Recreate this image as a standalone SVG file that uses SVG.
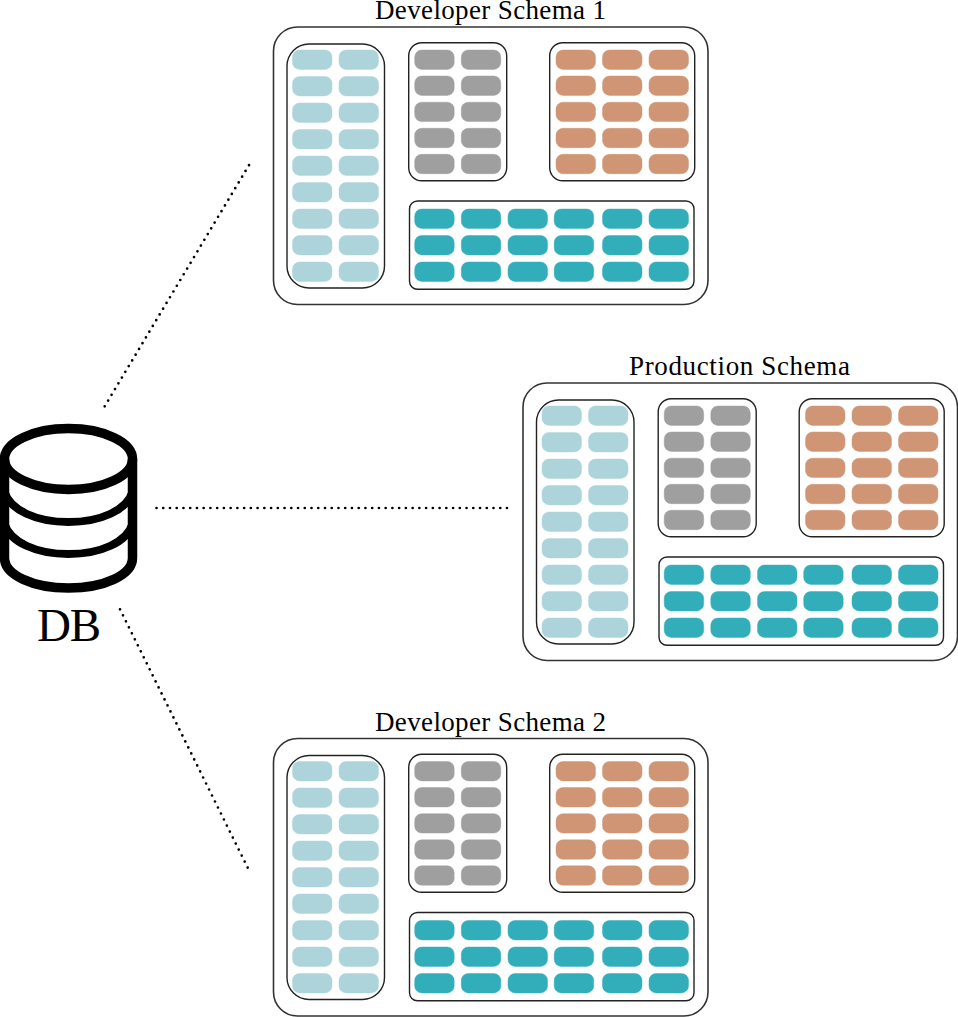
<svg xmlns="http://www.w3.org/2000/svg" width="958" height="1017" viewBox="0 0 958 1017">
<style>
.box{fill:#fff;stroke:#222;stroke-width:1.4}
.outer{fill:#fff;stroke:#333;stroke-width:1.6}
.b{fill:#acd4da;stroke:#acd4da;stroke-opacity:.45;stroke-width:1}
.g{fill:#9f9f9f;stroke:#9f9f9f;stroke-opacity:.45;stroke-width:1}
.o{fill:#cf9574;stroke:#cf9574;stroke-opacity:.45;stroke-width:1}
.t{fill:#32aeba;stroke:#32aeba;stroke-opacity:.45;stroke-width:1}
.lbl{font-family:"Liberation Serif","Times New Roman",serif;font-size:27px;fill:#000}
.dot{fill:none;stroke:#000;stroke-width:2.7;stroke-linecap:round}
.cyl{fill:none;stroke:#000;stroke-linecap:butt}
</style>
<defs>
<rect id="p" x="0" y="0" width="39.5" height="19.4" rx="7"/>
<g id="blue"><rect class="box" x="287" y="44" width="97.500" height="244" rx="22"/>
<g class="b">
<use href="#p" x="292.500" y="50"/><use href="#p" x="339" y="50"/>
<use href="#p" x="292.500" y="76.500"/><use href="#p" x="339" y="76.500"/>
<use href="#p" x="292.500" y="103"/><use href="#p" x="339" y="103"/>
<use href="#p" x="292.500" y="129.500"/><use href="#p" x="339" y="129.500"/>
<use href="#p" x="292.500" y="156"/><use href="#p" x="339" y="156"/>
<use href="#p" x="292.500" y="182.500"/><use href="#p" x="339" y="182.500"/>
<use href="#p" x="292.500" y="209"/><use href="#p" x="339" y="209"/>
<use href="#p" x="292.500" y="235.500"/><use href="#p" x="339" y="235.500"/>
<use href="#p" x="292.500" y="262"/><use href="#p" x="339" y="262"/>
</g></g>
<g id="gray"><rect class="box" x="408.700" y="42.700" width="98" height="138" rx="13"/>
<g class="g">
<use href="#p" x="414.700" y="50"/><use href="#p" x="461.300" y="50"/>
<use href="#p" x="414.700" y="76"/><use href="#p" x="461.300" y="76"/>
<use href="#p" x="414.700" y="102.200"/><use href="#p" x="461.300" y="102.200"/>
<use href="#p" x="414.700" y="128.300"/><use href="#p" x="461.300" y="128.300"/>
<use href="#p" x="414.700" y="154.300"/><use href="#p" x="461.300" y="154.300"/>
</g></g>
<g id="orange"><rect class="box" x="549.700" y="42.700" width="145" height="138" rx="13"/>
<g class="o">
<use href="#p" x="556" y="50"/><use href="#p" x="602.500" y="50"/><use href="#p" x="649" y="50"/>
<use href="#p" x="556" y="76"/><use href="#p" x="602.500" y="76"/><use href="#p" x="649" y="76"/>
<use href="#p" x="556" y="102.200"/><use href="#p" x="602.500" y="102.200"/><use href="#p" x="649" y="102.200"/>
<use href="#p" x="556" y="128.300"/><use href="#p" x="602.500" y="128.300"/><use href="#p" x="649" y="128.300"/>
<use href="#p" x="556" y="154.300"/><use href="#p" x="602.500" y="154.300"/><use href="#p" x="649" y="154.300"/>
</g></g>
<g id="teal"><rect class="box" x="409.500" y="201" width="284.500" height="88.300" rx="8"/>
<g class="t">
<use href="#p" x="414.700" y="209"/><use href="#p" x="461.300" y="209"/><use href="#p" x="508" y="209"/><use href="#p" x="554.200" y="209"/><use href="#p" x="602.500" y="209"/><use href="#p" x="649" y="209"/>
<use href="#p" x="414.700" y="235.500"/><use href="#p" x="461.300" y="235.500"/><use href="#p" x="508" y="235.500"/><use href="#p" x="554.200" y="235.500"/><use href="#p" x="602.500" y="235.500"/><use href="#p" x="649" y="235.500"/>
<use href="#p" x="414.700" y="262"/><use href="#p" x="461.300" y="262"/><use href="#p" x="508" y="262"/><use href="#p" x="554.200" y="262"/><use href="#p" x="602.500" y="262"/><use href="#p" x="649" y="262"/>
</g></g>
<g id="schema"><rect class="outer" x="273.500" y="27" width="434.500" height="277.500" rx="24"/>
<use href="#blue"/><use href="#gray"/><use href="#orange"/><use href="#teal"/></g>
</defs>
<g id="connectors">
<path class="dot" style="stroke-dasharray:0 6.690" d="M104.700 406.300L250.500 162.700"/>
<path class="dot" style="stroke-dasharray:0 6.740" d="M156.500 508H507.800"/>
<path class="dot" style="stroke-dasharray:0 6.700" d="M120 609.300L248.800 869.900"/>
</g>
<g id="db">
<g class="cyl">
<ellipse cx="68.500" cy="459" rx="64" ry="30.500" stroke-width="9.500"/>
<path d="M4.500 459V558C4.500 575 33 588 68.500 588S132.500 575 132.500 558V459" stroke-width="9.500"/>
<path d="M4.500 492C10 510 36 522 68.500 522S127 510 132.500 492" stroke-width="8"/>
<path d="M4.500 524C10 542 36 554 68.500 554S127 542 132.500 524" stroke-width="8"/>
</g>
<text class="lbl" x="37" y="641" style="font-size:47px" textLength="64">DB</text>
</g>
<g id="developer-schema-1"><use href="#schema"/><text class="lbl" x="375" y="19" textLength="231">Developer Schema 1</text></g>
<g id="production-schema"><use href="#schema" x="249.500" y="356"/><text class="lbl" x="629" y="374.500" textLength="221">Production Schema</text></g>
<g id="developer-schema-2"><use href="#schema" y="711.500"/><text class="lbl" x="375" y="730.500" textLength="231">Developer Schema 2</text></g>
</svg>
